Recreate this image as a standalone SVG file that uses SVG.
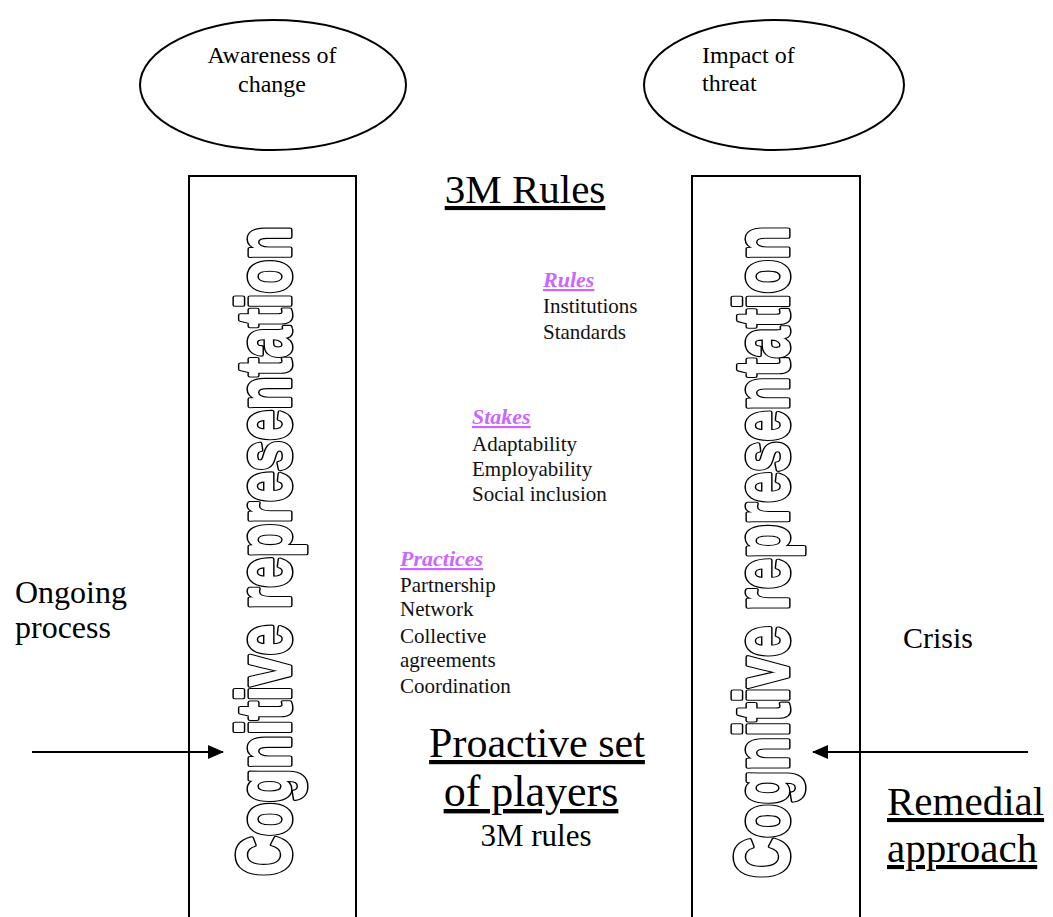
<svg xmlns="http://www.w3.org/2000/svg" width="1053" height="917" viewBox="0 0 1053 917">
<style>
.serif{font-family:"Liberation Serif","Times New Roman",serif;fill:#000}
.head{font-family:"Liberation Serif","Times New Roman",serif;font-weight:bold;font-style:italic;text-decoration:underline;fill:#cc66ff;font-size:22px}
.item{font-family:"Liberation Serif","Times New Roman",serif;font-size:21px;fill:#111}
.ul{text-decoration:underline}
.vert{font-family:"Liberation Sans",Arial,sans-serif;font-weight:bold;font-size:76px;stroke-linejoin:round}
.vo{fill:#000;stroke:#000;stroke-width:5.2}
.vi{fill:#fff;stroke:#fff;stroke-width:2.2}
.box{fill:#fff;stroke:#000;stroke-width:2}
.ell{fill:#fff;stroke:#000;stroke-width:2}
.conn{stroke:#000;stroke-width:2;fill:none}
</style>
<defs>
<marker id="arr" markerWidth="16" markerHeight="14" refX="15" refY="7" orient="auto" markerUnits="userSpaceOnUse">
<path d="M0,0 L16,7 L0,14 Z" fill="#000"/>
</marker>
</defs>
<rect width="1053" height="917" fill="#fff"/>

<g id="awareness">
<ellipse class="ell" cx="273" cy="85" rx="133" ry="65"/>
<text class="serif" x="272" y="63" font-size="24" text-anchor="middle">Awareness of</text>
<text class="serif" x="272" y="92" font-size="24" text-anchor="middle">change</text>
</g>

<g id="impact">
<ellipse class="ell" cx="774" cy="85" rx="130" ry="65"/>
<text class="serif" x="702" y="63" font-size="24">Impact of</text>
<text class="serif" x="702" y="91" font-size="24">threat</text>
</g>

<g id="left-column">
<path class="box" d="M189,930 L189,176 L356,176 L356,930"/>
<text class="vert vo" transform="translate(290,876) rotate(-90)" x="0" y="0" textLength="650" lengthAdjust="spacingAndGlyphs">Cognitive representation</text>
<text class="vert vi" transform="translate(290,876) rotate(-90)" x="0" y="0" textLength="650" lengthAdjust="spacingAndGlyphs">Cognitive representation</text>
</g>

<g id="right-column">
<path class="box" d="M692,930 L692,176 L860,176 L860,930"/>
<text class="vert vo" transform="translate(788,878) rotate(-90)" x="0" y="0" textLength="652" lengthAdjust="spacingAndGlyphs">Cognitive representation</text>
<text class="vert vi" transform="translate(788,878) rotate(-90)" x="0" y="0" textLength="652" lengthAdjust="spacingAndGlyphs">Cognitive representation</text>
</g>

<g id="title">
<text class="serif ul" x="525" y="203" font-size="41" text-anchor="middle">3M Rules</text>
</g>

<g id="rules">
<text class="head" x="543" y="287">Rules</text>
<text class="item" x="543" y="313">Institutions</text>
<text class="item" x="543" y="339">Standards</text>
</g>

<g id="stakes">
<text class="head" x="472" y="424">Stakes</text>
<text class="item" x="472" y="451">Adaptability</text>
<text class="item" x="472" y="476">Employability</text>
<text class="item" x="472" y="501">Social inclusion</text>
</g>

<g id="practices">
<text class="head" x="400" y="566">Practices</text>
<text class="item" x="400" y="592">Partnership</text>
<text class="item" x="400" y="616">Network</text>
<text class="item" x="400" y="643">Collective</text>
<text class="item" x="400" y="667">agreements</text>
<text class="item" x="400" y="693">Coordination</text>
</g>

<g id="proactive">
<text class="serif ul" x="537" y="757" font-size="42" text-anchor="middle">Proactive set</text>
<text class="serif ul" x="531" y="806" font-size="44" text-anchor="middle">of players</text>
<text class="serif" x="536" y="846" font-size="31" text-anchor="middle">3M rules</text>
</g>

<g id="ongoing">
<text class="serif" x="15" y="603" font-size="32">Ongoing</text>
<text class="serif" x="15" y="638" font-size="32">process</text>
</g>

<g id="crisis">
<text class="serif" x="903" y="648" font-size="30">Crisis</text>
</g>

<g id="remedial">
<text class="serif ul" x="887" y="815" font-size="41">Remedial</text>
<text class="serif ul" x="887" y="862" font-size="41">approach</text>
</g>

<g id="connectors">
<line class="conn" x1="32" y1="752" x2="223" y2="752" marker-end="url(#arr)"/>
<line class="conn" x1="1028" y1="752" x2="813" y2="752" marker-end="url(#arr)"/>
</g>
</svg>
